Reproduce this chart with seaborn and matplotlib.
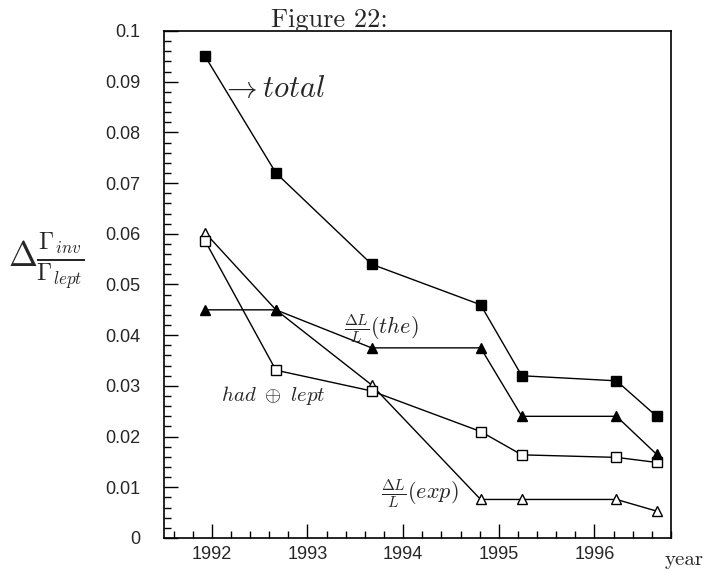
import matplotlib
matplotlib.use('Agg')
import matplotlib.pyplot as plt
import seaborn as sns
import numpy as np
from matplotlib.ticker import MultipleLocator

sns.set_style('white')
plt.rcParams['font.family'] = ['Liberation Sans', 'DejaVu Sans']
plt.rcParams['mathtext.fontset'] = 'cm'

# years of the measurements
years = [1991.93, 1992.67, 1993.67, 1994.81, 1995.24, 1996.23, 1996.65]

total = [0.095, 0.072, 0.054, 0.046, 0.032, 0.031, 0.024]
lumi_the = [0.045, 0.045, 0.0375, 0.0375, 0.024, 0.024, 0.0165]
had_lept = [0.0586, 0.0331, 0.029, 0.021, 0.0164, 0.0159, 0.0149]
lumi_exp = [0.0602, 0.045, 0.0302, 0.0076, 0.0076, 0.0076, 0.0053]

fig = plt.figure(figsize=(7.05, 5.73), dpi=100)
ax = fig.add_axes([0.2326, 0.0611, 0.7192, 0.8848])

common = dict(color='k', linewidth=1.0, markeredgecolor='k', markeredgewidth=1.0, ax=ax)
sns.lineplot(x=years, y=lumi_exp, marker='^', markersize=7.5, markerfacecolor='white', **common)
sns.lineplot(x=years, y=had_lept, marker='s', markersize=6.5, markerfacecolor='white', **common)
sns.lineplot(x=years, y=lumi_the, marker='^', markersize=7.5, markerfacecolor='k', **common)
sns.lineplot(x=years, y=total, marker='s', markersize=6.5, markerfacecolor='k', **common)

ax.set_xlim(1991.5, 1996.8)
ax.set_ylim(0, 0.1)
ax.xaxis.set_major_locator(MultipleLocator(1))
ax.xaxis.set_minor_locator(MultipleLocator(0.2))
ax.yaxis.set_major_locator(MultipleLocator(0.01))
ax.yaxis.set_minor_locator(MultipleLocator(0.002))
ax.set_yticks(np.arange(0, 0.1001, 0.01))
ax.set_yticklabels(['0'] + ['%g' % v for v in np.arange(0.01, 0.1001, 0.01)])
ax.set_xticks([1992, 1993, 1994, 1995, 1996])
ax.set_xticklabels(['1992', '1993', '1994', '1995', '1996'])
ax.tick_params(which='both', bottom=True, left=True, top=False, right=False,
               direction='in', color='k', width=1)
ax.tick_params(which='major', length=10, labelsize=13)
ax.tick_params(which='minor', length=5)
ax.tick_params(axis='y', which='major', pad=17)
ax.tick_params(axis='x', which='major', pad=6)
for sp in ax.spines.values():
    sp.set_color('k')
    sp.set_linewidth(1.2)

# annotations
ax.text(1992.1, 0.0885, r'$\rightarrow total$', fontsize=22, va='center', ha='left')
ax.text(1993.38, 0.0413, r'$\frac{\Delta L}{L}(the)$', fontsize=16, va='center', ha='left')
ax.text(1992.1, 0.0281, r'$had\ \oplus\ lept$', fontsize=15, va='center', ha='left')
ax.text(1993.77, 0.0088, r'$\frac{\Delta L}{L}(exp)$', fontsize=16, va='center', ha='left')

fig.text(0.467, 0.965, 'Figure 22:', fontsize=19, family='cmr10', ha='center', va='center')
fig.text(0.012, 0.545, r'$\Delta\frac{\Gamma_{inv}}{\Gamma_{lept}}$', fontsize=25,
         ha='left', va='center')
fig.text(0.998, 0.022, 'year', fontsize=15, family='cmr10', ha='right', va='center')

fig.savefig('out.png', dpi=100)
